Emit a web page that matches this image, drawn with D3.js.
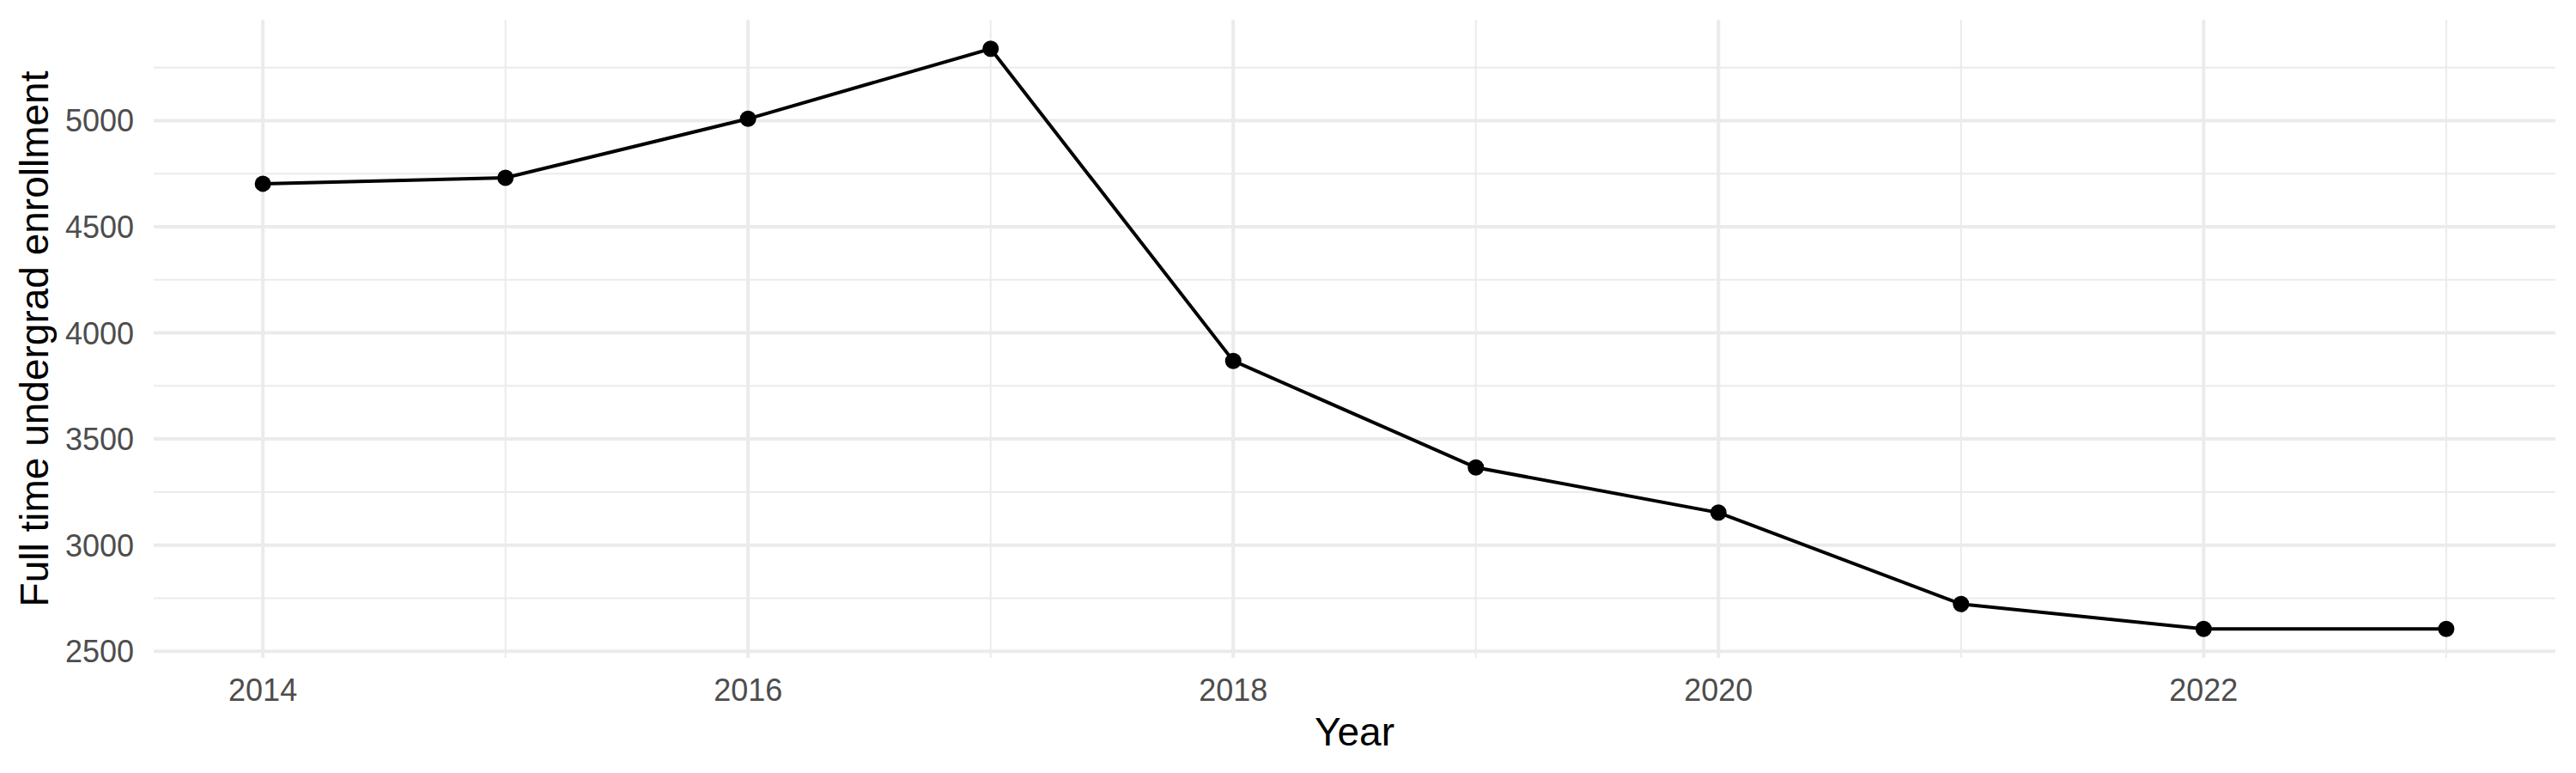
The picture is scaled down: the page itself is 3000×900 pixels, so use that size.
<!DOCTYPE html>
<html>
<head>
<meta charset="utf-8">
<script src="https://cdn.jsdelivr.net/npm/d3@7"></script>
<style>
  body { margin: 0; background: #fff; }
  text { font-family: "Liberation Sans", Arial, sans-serif; }
</style>
</head>
<body>
<div id="chart"></div>
<script>
// data
const years = [2014, 2015, 2016, 2017, 2018, 2019, 2020, 2021, 2022, 2023];
const enrollment = [4703, 4731, 5009, 5339, 3868, 3366, 3153, 2722, 2605, 2605];
const xTicks = [2014, 2016, 2018, 2020, 2022];
const xMinor = [2015, 2017, 2019, 2021, 2023];
const yTicks = [2500, 3000, 3500, 4000, 4500, 5000];
const yMinor = [2750, 3250, 3750, 4250, 4750, 5250];

const width = 3000, height = 900;
const margin = {top: 23, right: 24, bottom: 134, left: 179};

const svg = d3.select("#chart")
	.append("svg")
	.attr("width", width)
	.attr("height", height);

// ggplot style 5% expansion on both axes
function expand(ext) {
	let pad = (ext[1] - ext[0]) * 0.05;
	return [ext[0] - pad, ext[1] + pad];
}

let x = d3.scaleLinear()
	.domain(expand(d3.extent(years)))
	.range([margin.left, width - margin.right]);

let y = d3.scaleLinear()
	.domain(expand(d3.extent(enrollment)))
	.range([height - margin.bottom, margin.top]);

const gridColor = "#ebebeb";

// minor gridlines
yMinor.forEach(t =>
	svg.append("line")
	.attr("x1", x.range()[0]).attr("x2", x.range()[1])
	.attr("y1", y(t)).attr("y2", y(t))
	.attr("stroke", gridColor).attr("stroke-width", 2)
);
xMinor.forEach(t =>
	svg.append("line")
	.attr("x1", x(t)).attr("x2", x(t))
	.attr("y1", y.range()[0]).attr("y2", y.range()[1])
	.attr("stroke", gridColor).attr("stroke-width", 2)
);

// major gridlines
yTicks.forEach(t =>
	svg.append("line")
	.attr("x1", x.range()[0]).attr("x2", x.range()[1])
	.attr("y1", y(t)).attr("y2", y(t))
	.attr("stroke", gridColor).attr("stroke-width", 4)
);
xTicks.forEach(t =>
	svg.append("line")
	.attr("x1", x(t)).attr("x2", x(t))
	.attr("y1", y.range()[0]).attr("y2", y.range()[1])
	.attr("stroke", gridColor).attr("stroke-width", 4)
);

// tick labels
yTicks.forEach(t =>
	svg.append("text")
	.attr("x", margin.left - 23)
	.attr("y", y(t))
	.attr("dy", "0.36em")
	.attr("text-anchor", "end")
	.attr("font-size", 36)
	.attr("fill", "#4d4d4d")
	.text(t)
);
xTicks.forEach(t =>
	svg.append("text")
	.attr("x", x(t))
	.attr("y", 816)
	.attr("text-anchor", "middle")
	.attr("font-size", 36)
	.attr("fill", "#4d4d4d")
	.text(t)
);

// axis titles
svg.append("text")
	.attr("x", (x.range()[0] + x.range()[1]) / 2)
	.attr("y", 868)
	.attr("text-anchor", "middle")
	.attr("font-size", 46)
	.attr("fill", "#000")
	.text("Year");

svg.append("text")
	.attr("transform", `translate(56, ${(y.range()[0] + y.range()[1]) / 2}) rotate(-90)`)
	.attr("text-anchor", "middle")
	.attr("font-size", 46)
	.attr("fill", "#000")
	.text("Full time undergrad enrollment");

// the line and points
let points = years.map((yr, i) => ({year: yr, value: enrollment[i]}));

let line = d3.line()
	.x(d => x(d.year))
	.y(d => y(d.value));

svg.append("path")
	.datum(points)
	.attr("d", line)
	.attr("fill", "none")
	.attr("stroke", "#000")
	.attr("stroke-width", 4);

svg.selectAll("circle.pt")
	.data(points)
	.join("circle")
	.attr("class", "pt")
	.attr("cx", d => x(d.year))
	.attr("cy", d => y(d.value))
	.attr("r", 9.5)
	.attr("fill", "#000");
</script>
</body>
</html>
